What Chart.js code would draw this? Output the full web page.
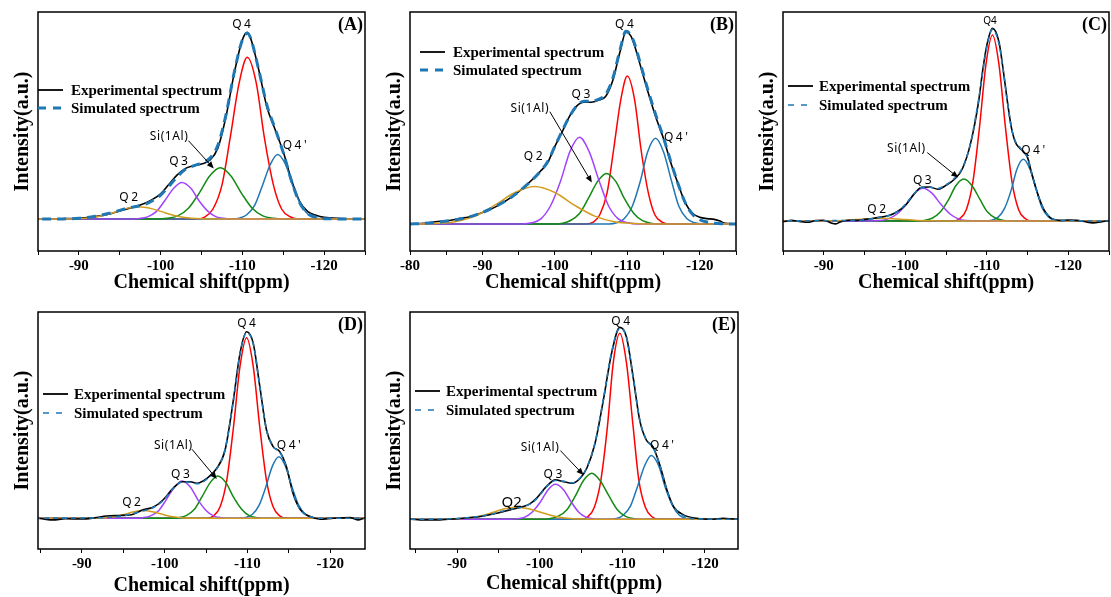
<!DOCTYPE html>
<html lang="en">
<head>
<meta charset="UTF-8">
<title>29Si NMR deconvolution</title>
<script src="https://cdn.jsdelivr.net/npm/chart.js"></script>
<style>
    body { margin: 0; background: #fff; }
    #wrap { position: relative; width: 1111px; height: 597px; overflow: hidden; background: #fff; }
    .panel { position: absolute; }
</style>
</head>
<body>
<div id="wrap"></div>
<script>
// ---- data: [ppm, intensity], intensity scaled so the Q4 maximum of each spectrum is 100 ----
// (A)
const aExp = [[-80,0],[-85,0.1],[-88,0.2],[-90,0.4],[-92,1.3],[-94,3],[-96,5.6],[-98,8.3],[-99,10.5],[-100,13.5],[-101,18.5],[-102,23.5],[-103,27],[-104,28.5],[-105,29.5],[-106,31.5],[-107,38],[-108,55],[-109,78],[-110,96],[-110.6,100],[-111,97],[-112,80],[-113,60],[-114,48],[-115,36],[-116,21],[-117,9.5],[-118,4],[-119,2],[-120,0.9],[-122,0.3],[-125,0.1]];
const aSim = [[-80,0],[-88,0.1],[-90,0.4],[-92,1.5],[-94,3.4],[-96,5.9],[-98,7.8],[-99,9.8],[-100,12.8],[-101,17.5],[-102,22.5],[-103,26.5],[-104,28.5],[-105,30],[-106,32.5],[-107,39.5],[-108,56],[-109,78.5],[-110,96],[-110.6,99.5],[-111,97],[-112,80],[-113,61],[-114,48.5],[-115,35.6],[-116,20.6],[-117,8.8],[-118,3],[-119,1],[-120,0.2],[-125,0]];
const aQ4 = [[-80,0],[-104.3,0],[-105.4,1.1],[-106.4,5.4],[-107.5,18.2],[-108.5,43.3],[-109.6,72.8],[-110.6,86.6],[-111.7,72.8],[-112.7,43.3],[-113.8,18.2],[-114.8,5.4],[-115.9,1.1],[-116.9,0],[-125,0]];
const aQ4p = [[-80,0],[-108.6,0],[-109.6,0.5],[-110.5,2.2],[-111.5,7.3],[-112.4,17.3],[-113.4,29.1],[-114.3,34.6],[-115.3,29.1],[-116.2,17.3],[-117.2,7.3],[-118.1,2.2],[-119.1,0.5],[-120,0],[-125,0]];
const aSi = [[-80,0],[-99.5,0],[-100.8,0.4],[-102.1,1.7],[-103.4,5.8],[-104.7,13.8],[-106,23.1],[-107.3,27.5],[-108.6,23.1],[-109.9,13.8],[-111.2,5.8],[-112.5,1.7],[-113.8,0.4],[-115.1,0],[-125,0]];
const aQ3 = [[-80,0],[-96.3,0],[-97.4,0.3],[-98.4,1.2],[-99.5,4.1],[-100.5,9.8],[-101.6,16.5],[-102.6,19.6],[-103.7,16.5],[-104.7,9.8],[-105.8,4.1],[-106.8,1.2],[-107.9,0.3],[-108.9,0],[-125,0]];
const aQ2 = [[-80,0],[-87.6,0],[-89.2,0.1],[-90.8,0.4],[-92.4,1.4],[-94.1,3.3],[-95.7,5.6],[-97.3,6.6],[-98.9,5.6],[-100.6,3.3],[-102.2,1.4],[-103.8,0.4],[-105.5,0.1],[-107.1,0],[-125,0]];
const aLabels = [['Q4',-109.9,103.9],['Q3',-102.2,30.7],['Q2',-96.1,11.6],["Q4'",-116.4,39.6],['Si(1Al)',-101,44.1]];
const aArrow = [-103.4,42,-106.5,27.1];

// (B)
const bExp = [[-80,0],[-82,0.4],[-83.5,1.2],[-85,1.6],[-86,2.2],[-87,3],[-88,3.5],[-90,6],[-92,9.3],[-94,14],[-96,20],[-98,27.5],[-99,32],[-100,40.5],[-101,48],[-102,56],[-103,61.5],[-104,63.5],[-105,63.5],[-106,64.5],[-107,66.5],[-108,75],[-109,90],[-109.8,100],[-110.5,98],[-111,93],[-112,80],[-113,67],[-114,55],[-115,44.5],[-116,32],[-117,21],[-118,11],[-119,5.6],[-120,3.5],[-121,2.8],[-122,2.4],[-122.8,1.5],[-123.5,0.3],[-125,0]];
const bSim = [[-80,0],[-82,0.3],[-84,1],[-86,2],[-88,3.5],[-90,6],[-92,9.5],[-94,14],[-96,20],[-98,27.5],[-99,32.5],[-100,40.5],[-101,48.5],[-102,56],[-103,61.5],[-104,64],[-105,64],[-106,65],[-107,67.5],[-108,76],[-109,91],[-109.8,100.5],[-110.5,98.5],[-111,94],[-112,81],[-113,68],[-114,56],[-115,45],[-116,32.5],[-117,21],[-118,11],[-119,5],[-120,2.2],[-121,1],[-122,0.4],[-123,0.1],[-125,0]];
const bQ4 = [[-80,0],[-104.3,0],[-105.3,1],[-106.2,4.8],[-107.2,16.2],[-108.1,38.6],[-109.1,64.9],[-110,77.2],[-111,64.9],[-111.9,38.6],[-112.9,16.2],[-113.8,4.8],[-114.8,1],[-115.7,0],[-125,0]];
const bQ4p = [[-80,0],[-107.5,0],[-108.5,0.6],[-109.6,2.8],[-110.7,9.4],[-111.8,22.4],[-112.8,37.6],[-113.9,44.7],[-115,37.6],[-116.1,22.4],[-117.1,9.4],[-118.2,2.8],[-119.3,0.6],[-120.4,0],[-125,0]];
const bSi = [[-80,0],[-99.6,0],[-100.9,0.3],[-102.1,1.7],[-103.4,5.5],[-104.6,13.2],[-105.9,22.2],[-107.1,26.4],[-108.4,22.2],[-109.6,13.2],[-110.9,5.5],[-112.1,1.7],[-113.4,0.3],[-114.6,0],[-125,0]];
const bQ3 = [[-80,0],[-95.5,0],[-96.8,0.6],[-98.1,2.8],[-99.4,9.5],[-100.8,22.6],[-102.1,38],[-103.4,45.2],[-104.7,38],[-106.1,22.6],[-107.4,9.5],[-108.7,2.8],[-110.1,0.6],[-111.4,0],[-125,0]];
const bQ2 = [[-80,0],[-80.7,0],[-83.5,0.3],[-86.2,1.2],[-89,4.1],[-91.7,9.8],[-94.5,16.4],[-97.2,19.5],[-100,16.4],[-102.7,9.8],[-105.5,4.1],[-108.2,1.2],[-111,0.3],[-113.7,0],[-125,0]];
const bLabels = [['Q4',-109.6,103.8],['Q3',-103.6,67.3],['Q2',-97,35.1],["Q4'",-116.7,45.2],['Si(1Al)',-96.5,60.3]];
const bArrow = [-99.3,58.6,-105.1,21.6];

// (C)
const cExp = [[-80,0],[-85,-0.3],[-86,0.3],[-87,-0.2],[-88,-0.7],[-89,0.2],[-90,0.4],[-91,-1.2],[-91.5,-1.5],[-92,-0.5],[-93,0.4],[-94,0.3],[-95,0.8],[-96,1.3],[-97,2],[-98,2.8],[-99,4.8],[-100,8],[-101,13.5],[-102,17.5],[-103,17.6],[-104,16.5],[-105,18.5],[-106,21.5],[-107,27],[-108,40],[-109,62],[-109.5,78],[-110,91],[-110.7,100],[-111.5,93],[-112,79],[-112.5,63],[-113,49],[-113.5,41],[-114,38],[-114.5,36],[-115,33],[-115.5,25],[-116,17.5],[-116.5,11],[-117,6],[-117.5,3],[-118,1.2],[-119,0.3],[-120,0.5],[-121,0.3],[-122,-0.3],[-123,-1],[-124,-0.5],[-125,0.2]];
const cSim = [[-80,0],[-94,0.3],[-96,1.2],[-97,1.9],[-98,2.8],[-99,4.8],[-100,8.5],[-101,13.8],[-102,17.3],[-103,17.5],[-104,16.8],[-105,18.8],[-106,22],[-107,27.5],[-108,40],[-109,63],[-110,90],[-110.7,99.5],[-111.5,92],[-112,79],[-112.5,63],[-113,49],[-113.5,41.5],[-114,38.5],[-114.5,36],[-115,33],[-115.5,25],[-116,17.5],[-116.5,11],[-117,6],[-117.5,3],[-118,1.2],[-119,0.2],[-125,0]];
const cQ4 = [[-80,0],[-105.9,0],[-106.7,1.3],[-107.5,6],[-108.3,20.3],[-109.1,48.3],[-109.9,81.2],[-110.7,96.5],[-111.5,81.2],[-112.3,48.3],[-113.1,20.3],[-113.9,6],[-114.7,1.3],[-115.5,0],[-125,0]];
const cQ4p = [[-80,0],[-109.9,0],[-110.6,0.4],[-111.4,2],[-112.2,6.7],[-113,16],[-113.7,26.9],[-114.5,32],[-115.3,26.9],[-116.1,16],[-116.8,6.7],[-117.6,2],[-118.4,0.4],[-119.2,0],[-125,0]];
const cSi = [[-80,0],[-101.4,0],[-102.3,0.3],[-103.3,1.4],[-104.3,4.6],[-105.3,10.9],[-106.2,18.3],[-107.2,21.8],[-108.2,18.3],[-109.2,10.9],[-110.1,4.6],[-111.1,1.4],[-112.1,0.3],[-113.1,0],[-125,0]];
const cQ3 = [[-80,0],[-95.8,0],[-96.8,0.2],[-97.9,1.1],[-99,3.6],[-100.1,8.5],[-101.1,14.3],[-102.2,17],[-103.3,14.3],[-104.4,8.5],[-105.5,3.6],[-106.5,1.1],[-107.6,0.2],[-108.7,0],[-125,0]];
const cQ2 = [[-80,0],[-88,0],[-89.5,0.02],[-91,0.1],[-92.5,0.3],[-94,0.7],[-95.5,1.2],[-97,1.4],[-98.5,1.2],[-100,0.7],[-101.5,0.3],[-103,0.1],[-104.5,0.02],[-106,0],[-125,0]];
const cLabels = [['Q4',-110.4,104,10,0],['Q3',-102.1,20.9],['Q2',-96.5,5.7],["Q4'",-115.7,36.5],['Si(1Al)',-100.1,37.4]];
const cArrow = [-102.7,35.5,-106.5,22.5];

// (D)
const dExp = [[-80,0],[-84.7,0],[-85.5,-0.5],[-86.5,-0.9],[-88,-0.3],[-90,-0.4],[-91.5,0.2],[-93,1.2],[-94.5,1.5],[-96,1.9],[-97.4,4.5],[-98.6,5.9],[-99.8,9.8],[-101,16],[-102.1,19.6],[-103.1,19.6],[-103.9,18.8],[-105.1,21.4],[-106.3,26.8],[-107.3,36.6],[-108.3,63.4],[-109.1,88.4],[-109.9,100],[-110.7,93.8],[-111.5,70.5],[-112.3,47.3],[-113.1,38.4],[-113.9,35.7],[-114.7,27.7],[-115.5,13.4],[-116.4,4.5],[-117.6,0.9],[-118.8,-0.5],[-120.4,0],[-122.4,0.3],[-123.4,-0.9],[-124.2,0],[-125,0]];
const dSim = [[-80,0],[-92,0.2],[-94,0.8],[-95.5,1.8],[-97,3.5],[-98.5,5.5],[-99.8,9.5],[-101,15.8],[-102.1,19.5],[-103.1,19.3],[-104,18.5],[-105.1,21],[-106.3,26.5],[-107.3,37],[-108.3,63],[-109.1,88],[-109.9,99.5],[-110.7,93.5],[-111.5,70.5],[-112.3,47.5],[-113.1,38.5],[-113.9,35.5],[-114.7,27.5],[-115.5,13.6],[-116.4,4.5],[-117.6,0.8],[-119,0],[-125,0]];
const dQ4 = [[-80,0],[-105.1,0],[-105.9,1.3],[-106.7,6.1],[-107.5,20.3],[-108.3,48.4],[-109.1,81.4],[-109.9,96.8],[-110.7,81.4],[-111.5,48.4],[-112.3,20.3],[-113.1,6.1],[-113.9,1.3],[-114.7,0],[-125,0]];
const dQ4p = [[-80,0],[-109,0],[-109.8,0.4],[-110.6,2.1],[-111.4,6.9],[-112.2,16.5],[-113,27.8],[-113.8,33],[-114.6,27.8],[-115.4,16.5],[-116.2,6.9],[-117,2.1],[-117.8,0.4],[-118.6,0],[-125,0]];
const dSi = [[-80,0],[-100.7,0],[-101.7,0.3],[-102.6,1.4],[-103.6,4.8],[-104.5,11.4],[-105.5,19.1],[-106.4,22.7],[-107.4,19.1],[-108.3,11.4],[-109.3,4.8],[-110.2,1.4],[-111.2,0.3],[-112.1,0],[-125,0]];
const dQ3 = [[-80,0],[-96.4,0],[-97.4,0.3],[-98.3,1.3],[-99.3,4.2],[-100.2,10],[-101.2,16.8],[-102.1,20],[-103.1,16.8],[-104,10],[-105,4.2],[-105.9,1.3],[-106.9,0.3],[-107.8,0],[-125,0]];
const dQ2 = [[-80,0],[-90.7,0],[-91.8,0.05],[-92.9,0.3],[-94.1,0.9],[-95.2,2.1],[-96.3,3.5],[-97.4,4.1],[-98.5,3.5],[-99.7,2.1],[-100.8,0.9],[-101.9,0.3],[-103.1,0.05],[-104.2,0],[-125,0]];
const dLabels = [['Q4',-109.9,104.5],['Q3',-101.9,23.6],['Q2',-96,8.6],["Q4'",-115,38.9],['Si(1Al)',-101,38.9]];
const dArrow = [-103.3,37,-106.3,21];

// (E)
const eExp = [[-80,0],[-84.3,0],[-85.5,-0.3],[-87.9,-0.3],[-90,0.3],[-92.8,1.4],[-94.8,3.1],[-96.4,4.9],[-98,6.6],[-98.8,8],[-99.6,10.9],[-100.8,17],[-101.9,20.5],[-102.9,19.6],[-103.9,18.8],[-104.9,21.4],[-105.7,26.6],[-106.7,39.6],[-107.7,62],[-108.7,86.5],[-109.7,100],[-110.5,95],[-111.3,74.3],[-112.1,51.7],[-112.9,41.3],[-113.7,37.8],[-114.6,27.4],[-115.4,15.3],[-116.2,6.6],[-117.4,2.3],[-119,0.5],[-121,0],[-122.2,0.5],[-123.8,0],[-125,0]];
const eSim = [[-80,0],[-88,0.1],[-90,0.4],[-92.5,1.4],[-94.5,3],[-96.2,5],[-98,6.5],[-99,8.4],[-99.8,11.5],[-100.8,16.8],[-101.9,20.2],[-102.9,19.8],[-103.9,19],[-104.9,21.6],[-105.7,27],[-106.7,40],[-107.7,62.5],[-108.7,87],[-109.7,99.5],[-110.5,95],[-111.3,74.5],[-112.1,52],[-112.9,41.5],[-113.7,37.5],[-114.6,27.5],[-115.4,15],[-116.2,6.5],[-117.4,1.8],[-119,0.2],[-125,0]];
const eQ4 = [[-80,0],[-105.1,0],[-105.8,1.3],[-106.6,6.1],[-107.4,20.3],[-108.2,48.5],[-108.9,81.5],[-109.7,96.9],[-110.5,81.5],[-111.3,48.5],[-112,20.3],[-112.8,6.1],[-113.6,1.3],[-114.4,0],[-125,0]];
const eQ4p = [[-80,0],[-108.4,0],[-109.3,0.4],[-110.1,2.1],[-111,7],[-111.8,16.6],[-112.7,27.9],[-113.5,33.2],[-114.4,27.9],[-115.2,16.6],[-116.1,7],[-116.9,2.1],[-117.8,0.4],[-118.6,0],[-125,0]];
const eSi = [[-80,0],[-100.2,0],[-101.2,0.3],[-102.2,1.5],[-103.3,5],[-104.3,12],[-105.3,20.2],[-106.3,24],[-107.3,20.2],[-108.4,12],[-109.4,5],[-110.4,1.5],[-111.5,0.3],[-112.5,0],[-125,0]];
const eQ3 = [[-80,0],[-96.4,0],[-97.3,0.2],[-98.2,1.1],[-99.1,3.8],[-100.1,9.1],[-101,15.3],[-101.9,18.2],[-102.9,15.3],[-103.8,9.1],[-104.7,3.8],[-105.6,1.1],[-106.6,0.2],[-107.5,0],[-125,0]];
const eQ2 = [[-80,0],[-87.5,0],[-89.1,0.1],[-90.7,0.4],[-92.4,1.3],[-94,3.1],[-95.6,5.3],[-97.2,6.3],[-98.8,5.3],[-100.5,3.1],[-102.1,1.3],[-103.7,0.4],[-105.3,0.1],[-107,0],[-125,0]];
const eLabels = [['Q4',-109.8,103],['Q3',-101.6,23.1],['Q2',-96.6,8.7,15,0],["Q4'",-114.8,38.4],['Si(1Al)',-100,37.3]];
const eArrow = [-102.5,35.8,-105.3,23.1];

// ---- layout of the five panels (plot box in page pixels) ----
const panels = [
    { tag: '(A)', box: [38, 12, 327, 239],  titleY: 283, xr: [-125, -85],    yr: [-17.1, 110.9], thick: true,
      exp: aExp, sim: aSim, comps: [aQ2, aQ3, aSi, aQ4p, aQ4], labels: aLabels, arrow: aArrow, leg: [0, 78, 18, 33] },
    { tag: '(B)', box: [410, 12, 326, 239], titleY: 283, xr: [-125, -80],    yr: [-14.1, 110.6], thick: true,
      exp: bExp, sim: bSim, comps: [bQ2, bQ3, bSi, bQ4p, bQ4], labels: bLabels, arrow: bArrow, leg: [10, 40, 18, 43] },
    { tag: '(C)', box: [783, 12, 326, 239], titleY: 283, xr: [-125, -85],    yr: [-15.6, 108.5], thick: false,
      exp: cExp, sim: cSim, comps: [cQ2, cQ3, cSi, cQ4p, cQ4], labels: cLabels, arrow: cArrow, leg: [5, 74, 19, 36] },
    { tag: '(D)', box: [38, 312, 327, 237], titleY: 586, xr: [-124.2, -84.7], yr: [-16.5, 110.6], thick: false,
      exp: dExp, sim: dSim, comps: [dQ2, dQ3, dSi, dQ4p, dQ4], labels: dLabels, arrow: dArrow, leg: [5, 82, 19, 36] },
    { tag: '(E)', box: [410, 312, 328, 237], titleY: 584, xr: [-124, -84.3],  yr: [-15.5, 108],   thick: false,
      exp: eExp, sim: eSim, comps: [eQ2, eQ3, eSi, eQ4p, eQ4], labels: eLabels, arrow: eArrow, leg: [5, 79, 19, 36] }
];

const compColors = ['#d29c1c', '#a044ff', '#138a13', '#1f77b4', '#ff0000'];
const simColor = '#1f77b4';
const serif = '"Liberation Serif", "Times New Roman", serif';

function pts(a) { return a.map(p => ({ x: p[0], y: p[1] })); }

function makePanel(p) {
    const [bx, by, bw, bh] = p.box;
    const padTop = 12, axW = 38, padRight = 3;
    const left = bx - axW, top = by - padTop;
    const W = bw + axW + padRight, H = p.titleY + 16 - top;

    const div = document.createElement('div');
    div.className = 'panel';
    div.style.cssText = `left:${left}px;top:${top}px;width:${W}px;height:${H}px`;
    const cv = document.createElement('canvas');
    div.appendChild(cv);
    document.getElementById('wrap').appendChild(div);

    const simDash = p.thick ? [9, 6] : [5, 4];
    const simWidth = p.thick ? 3 : 1.6;

    const decor = {
        id: 'decor',
        afterDraw(chart) {
            const { ctx, chartArea: ca, scales: { x, y } } = chart;
            ctx.save();
            // frame
            ctx.strokeStyle = '#000';
            ctx.lineWidth = 1.5;
            ctx.strokeRect(ca.left, ca.top, ca.right - ca.left, ca.bottom - ca.top);

            // panel tag
            ctx.fillStyle = '#000';
            ctx.font = `bold 18px ${serif}`;
            ctx.textAlign = 'right';
            ctx.textBaseline = 'middle';
            ctx.fillText(p.tag, ca.right - 2, ca.top + 13);

            // legend
            const [dx, dy, gap, tx] = p.leg;
            const lx = ca.left + dx, ly = ca.top + dy;
            ctx.lineWidth = 1.8;
            ctx.beginPath(); ctx.moveTo(lx, ly); ctx.lineTo(lx + 25, ly); ctx.stroke();
            ctx.strokeStyle = simColor;
            ctx.lineWidth = simWidth;
            ctx.setLineDash(p.thick ? [8, 7] : [6, 7]);
            ctx.beginPath(); ctx.moveTo(lx, ly + gap); ctx.lineTo(lx + 25, ly + gap); ctx.stroke();
            ctx.setLineDash([]);
            ctx.font = `bold 15px ${serif}`;
            ctx.textAlign = 'left';
            ctx.fillText('Experimental spectrum', ca.left + tx, ly + 1);
            ctx.fillText('Simulated spectrum', ca.left + tx, ly + gap + 1);

            // peak labels
            ctx.textAlign = 'center';
            p.labels.forEach(l => {
                const size = l[3] || 12;
                const sp = l[4] !== undefined ? l[4] : (l[0].startsWith('Si') ? 0.6 : 2.5);
                ctx.font = `${size}px "Noto Sans", "DejaVu Sans", sans-serif`;
                ctx.letterSpacing = sp + 'px';
                ctx.fillText(l[0], x.getPixelForValue(l[1]) + sp / 2, y.getPixelForValue(l[2]));
            });
            ctx.letterSpacing = '0px';

            // arrow from the Si(1Al) label
            const [a1, b1, a2, b2] = p.arrow;
            const x1 = x.getPixelForValue(a1), y1 = y.getPixelForValue(b1);
            const x2 = x.getPixelForValue(a2), y2 = y.getPixelForValue(b2);
            const ang = Math.atan2(y2 - y1, x2 - x1);
            ctx.strokeStyle = '#000';
            ctx.lineWidth = 1;
            ctx.beginPath(); ctx.moveTo(x1, y1); ctx.lineTo(x2 - 5 * Math.cos(ang), y2 - 5 * Math.sin(ang)); ctx.stroke();
            ctx.beginPath();
            ctx.moveTo(x2, y2);
            ctx.lineTo(x2 - 7 * Math.cos(ang) + 3 * Math.sin(ang), y2 - 7 * Math.sin(ang) - 3 * Math.cos(ang));
            ctx.lineTo(x2 - 7 * Math.cos(ang) - 3 * Math.sin(ang), y2 - 7 * Math.sin(ang) + 3 * Math.cos(ang));
            ctx.closePath(); ctx.fill();
            ctx.restore();
        }
    };

    const base = { pointRadius: 0, fill: false, cubicInterpolationMode: 'monotone' };
    const datasets = [
        Object.assign({ label: 'Simulated spectrum', data: pts(p.sim), borderColor: simColor, borderWidth: simWidth, borderDash: simDash, order: 0 }, base)
    ];
    p.comps.forEach((c, i) => {
        datasets.push(Object.assign({ label: 'c' + i, data: pts(c), borderColor: compColors[i], borderWidth: 1.5, order: 1 + i }, base));
    });
    datasets.push(Object.assign({ label: 'Experimental spectrum', data: pts(p.exp), borderColor: '#000', borderWidth: 1.6, order: p.thick ? 7 : 0.5 }, base));

    new Chart(cv, {
        type: 'line',
        data: { datasets },
        options: {
            responsive: true,
            maintainAspectRatio: false,
            animation: false,
            layout: { padding: { top: padTop, right: padRight, left: 0, bottom: 0 } },
            plugins: { legend: { display: false }, tooltip: { enabled: false } },
            scales: {
                x: {
                    type: 'linear',
                    reverse: true,
                    min: p.xr[0], max: p.xr[1],
                    afterBuildTicks: s => { s.ticks = s.ticks.filter(t => Math.abs(t.value % 5) < 1e-6); },
                    afterFit: s => { s.height = H - padTop - bh; },
                    ticks: {
                        stepSize: 5, includeBounds: false, autoSkip: false, maxRotation: 0, padding: 2, color: '#000',
                        font: { family: serif, weight: 'bold', size: 15 },
                        callback: v => (v % 10 === 0 ? v : '')
                    },
                    grid: { display: true, drawOnChartArea: false, drawTicks: true, tickLength: 4, tickColor: '#000', tickWidth: 1 },
                    border: { display: false },
                    title: { display: true, text: 'Chemical shift(ppm)', color: '#000',
                             font: { family: serif, weight: 'bold', size: 20 }, padding: { top: 0, bottom: 4 } }
                },
                y: {
                    min: p.yr[0], max: p.yr[1],
                    afterFit: s => { s.width = axW; },
                    ticks: { display: false },
                    grid: { display: false },
                    border: { display: false },
                    title: { display: true, text: 'Intensity(a.u.)', color: '#000',
                             font: { family: serif, weight: 'bold', size: 20 }, padding: { top: 11, bottom: 0 } }
                }
            }
        },
        plugins: [decor]
    });
}

panels.forEach(makePanel);
</script>
</body>
</html>
